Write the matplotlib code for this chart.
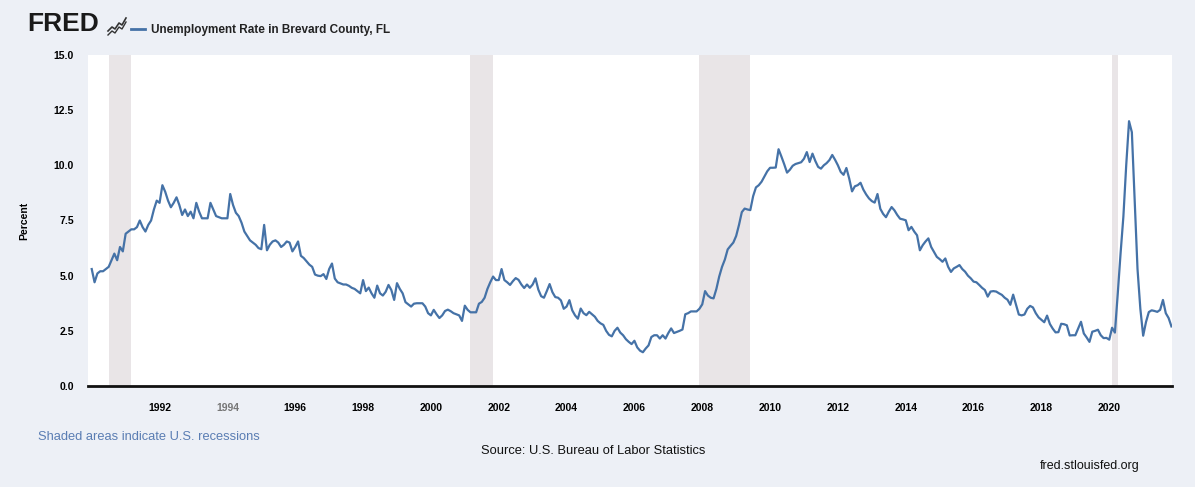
import numpy as np
import matplotlib
matplotlib.use("Agg")
import matplotlib.pyplot as plt
from matplotlib.lines import Line2D

# ---------------- data (monthly, Jan 1990 - Nov 2021) ----------------
start_year = 1990
rate_1990 = [5.3, 4.7, 5.1, 5.2, 5.2, 5.3, 5.4, 5.7, 6.0, 5.7, 6.3, 6.1]
rate_1991 = [6.9, 7.0, 7.1, 7.1, 7.2, 7.5, 7.2, 7.0, 7.3, 7.5, 8.0, 8.4]
rate_1992 = [8.3, 9.1, 8.8, 8.4, 8.1, 8.3, 8.55, 8.2, 7.75, 8.0, 7.7, 7.9]
rate_1993 = [7.6, 8.3, 7.9, 7.6, 7.6, 7.6, 8.3, 8.0, 7.7, 7.65, 7.6, 7.6]
rate_1994 = [7.6, 8.7, 8.2, 7.85, 7.7, 7.4, 7.0, 6.8, 6.6, 6.5, 6.4, 6.25]
rate_1995 = [6.2, 7.3, 6.15, 6.4, 6.55, 6.6, 6.5, 6.3, 6.4, 6.55, 6.5, 6.1]
rate_1996 = [6.3, 6.55, 5.9, 5.8, 5.65, 5.5, 5.4, 5.05, 5.0, 4.98, 5.07, 4.85]
rate_1997 = [5.3, 5.55, 4.87, 4.7, 4.65, 4.6, 4.6, 4.54, 4.45, 4.4, 4.3, 4.2]
rate_1998 = [4.8, 4.3, 4.46, 4.2, 4.0, 4.55, 4.2, 4.1, 4.27, 4.58, 4.35, 3.9]
rate_1999 = [4.66, 4.4, 4.2, 3.8, 3.7, 3.6, 3.73, 3.75, 3.75, 3.75, 3.6, 3.3]
rate_2000 = [3.2, 3.45, 3.25, 3.08, 3.2, 3.4, 3.46, 3.39, 3.3, 3.25, 3.2, 2.95]
rate_2001 = [3.64, 3.45, 3.34, 3.34, 3.34, 3.73, 3.81, 4.0, 4.4, 4.7, 4.96, 4.8]
rate_2002 = [4.8, 5.3, 4.8, 4.7, 4.58, 4.75, 4.89, 4.81, 4.6, 4.44, 4.6, 4.45]
rate_2003 = [4.6, 4.88, 4.37, 4.07, 4.0, 4.3, 4.62, 4.25, 4.03, 4.0, 3.88, 3.5]
rate_2004 = [3.6, 3.89, 3.43, 3.2, 3.05, 3.51, 3.3, 3.21, 3.36, 3.25, 3.14, 2.95]
rate_2005 = [2.84, 2.77, 2.5, 2.32, 2.25, 2.5, 2.64, 2.42, 2.3, 2.12, 2.0, 1.9]
rate_2006 = [2.05, 1.75, 1.6, 1.53, 1.7, 1.84, 2.22, 2.3, 2.3, 2.15, 2.3, 2.15]
rate_2007 = [2.4, 2.61, 2.4, 2.45, 2.5, 2.56, 3.25, 3.3, 3.38, 3.38, 3.38, 3.5]
rate_2008 = [3.7, 4.3, 4.1, 4.0, 3.97, 4.4, 4.96, 5.4, 5.73, 6.19, 6.35, 6.5]
rate_2009 = [6.8, 7.3, 7.88, 8.04, 8.0, 7.97, 8.6, 9.0, 9.1, 9.26, 9.5, 9.73]
rate_2010 = [9.89, 9.89, 9.9, 10.73, 10.4, 10.05, 9.67, 9.8, 9.98, 10.06, 10.1, 10.14]
rate_2011 = [10.3, 10.6, 10.15, 10.53, 10.2, 9.93, 9.85, 10.0, 10.1, 10.24, 10.47, 10.25]
rate_2012 = [10.0, 9.7, 9.57, 9.88, 9.4, 8.82, 9.05, 9.1, 9.21, 8.9, 8.68, 8.5]
rate_2013 = [8.38, 8.31, 8.7, 8.03, 7.8, 7.65, 7.9, 8.11, 7.96, 7.75, 7.58, 7.55]
rate_2014 = [7.51, 7.06, 7.21, 7.0, 6.83, 6.15, 6.38, 6.55, 6.69, 6.3, 6.08, 5.85]
rate_2015 = [5.75, 5.63, 5.78, 5.4, 5.17, 5.33, 5.4, 5.48, 5.3, 5.18, 5.0, 4.88]
rate_2016 = [4.73, 4.7, 4.58, 4.45, 4.35, 4.05, 4.28, 4.3, 4.28, 4.2, 4.13, 4.0]
rate_2017 = [3.91, 3.68, 4.14, 3.69, 3.24, 3.2, 3.24, 3.5, 3.63, 3.56, 3.3, 3.11]
rate_2018 = [3.0, 2.89, 3.19, 2.81, 2.6, 2.43, 2.44, 2.82, 2.8, 2.75, 2.29, 2.3]
rate_2019 = [2.3, 2.6, 2.91, 2.38, 2.2, 2.0, 2.46, 2.5, 2.55, 2.3, 2.17, 2.18]
rate_2020 = [2.1, 2.64, 2.42, 4.17, 6.0, 7.68, 10.0, 12.0, 11.5, 8.4, 5.3, 3.5]
rate_2021 = [2.28, 2.9, 3.35, 3.43, 3.4, 3.36, 3.45, 3.9, 3.3, 3.08, 2.7]

recession_starts = [1990 + 6/12, 2001 + 2/12, 2007 + 11/12, 2020 + 1/12]
recession_ends = [1991 + 2/12, 2001 + 10/12, 2009 + 5/12, 2020 + 3/12]

y_ticks = [0.0, 2.5, 5.0, 7.5, 10.0, 12.5, 15.0]
x_tick_years = list(range(1992, 2021, 2))

title = "Unemployment Rate in Brevard County, FL"

rate = np.array(rate_1990 + rate_1991 + rate_1992 + rate_1993 + rate_1994 + rate_1995 +
                rate_1996 + rate_1997 + rate_1998 + rate_1999 + rate_2000 + rate_2001 +
                rate_2002 + rate_2003 + rate_2004 + rate_2005 + rate_2006 + rate_2007 +
                rate_2008 + rate_2009 + rate_2010 + rate_2011 + rate_2012 + rate_2013 +
                rate_2014 + rate_2015 + rate_2016 + rate_2017 + rate_2018 + rate_2019 +
                rate_2020 + rate_2021)
t = start_year + np.arange(len(rate)) / 12.0

# ---------------- figure ----------------
plt.rcParams['font.family'] = ['Liberation Sans', 'DejaVu Sans']
W, H = 1195, 487
fig = plt.figure(figsize=(W / 100, H / 100), dpi=100, facecolor='#edf0f6')
ax = fig.add_axes([88 / W, 1 - 386 / H, (1172 - 88) / W, (386 - 55) / H])
ax.set_facecolor('white')

line_color = '#4572a7'
for s, e in zip(recession_starts, recession_ends):
    ax.axvspan(s, e, color='#e9e5e7', lw=0, zorder=0)
ax.plot(t, rate, color=line_color, lw=1.6, zorder=3)

ax.set_xlim(1989.89, 2021.85)
ax.set_ylim(0, 15)
ax.set_yticks(y_ticks)
ax.set_yticklabels([f"{v:.1f}" for v in y_ticks], fontsize=7.5, fontweight='bold')
ax.set_xticks(x_tick_years)
ax.set_xticklabels([str(y) for y in x_tick_years], fontsize=7.5, fontweight='bold')
for lbl in ax.get_xticklabels():
    if lbl.get_text() == '1994':
        lbl.set_color('#777777')
ax.tick_params(axis='both', length=0)
ax.tick_params(axis='y', pad=10)
ax.tick_params(axis='x', pad=12)
for sp in ['top', 'right', 'left']:
    ax.spines[sp].set_visible(False)
ax.spines['bottom'].set_linewidth(2.0)
ax.spines['bottom'].set_color('#111111')
ax.set_ylabel('Percent', fontsize=7.5, fontweight='bold', labelpad=18)

# ---------------- header ----------------
fig.text(27 / W, 1 - 24 / H, 'FRED', fontsize=19, fontweight='bold', color='#1a1a1a',
         va='center', ha='left')
# small chart icon
icon_x = np.array([108, 112, 115, 119, 122, 126]) / W
icon_y = 1 - np.array([31, 27, 29, 23, 25, 18]) / H
fig.add_artist(Line2D(icon_x, icon_y, color='#333333', lw=1.2))
fig.add_artist(Line2D(icon_x, icon_y - 4 / H, color='#333333', lw=1.0))
fig.add_artist(Line2D([131 / W, 145 / W], [1 - 29 / H, 1 - 29 / H], color=line_color, lw=2))
fig.text(151 / W, 1 - 30 / H, title, fontsize=8.5, fontweight='bold', color='#222222',
         va='center', ha='left')

# ---------------- footer ----------------
fig.text(38 / W, 1 - 437 / H, 'Shaded areas indicate U.S. recessions', fontsize=9.3,
         color='#5a7db3', va='center', ha='left')
fig.text(593 / W, 1 - 451 / H, 'Source: U.S. Bureau of Labor Statistics', fontsize=9.3,
         color='#111111', va='center', ha='center')
fig.text(1140 / W, 1 - 466 / H, 'fred.stlouisfed.org', fontsize=9.0,
         color='#111111', va='center', ha='right')

fig.savefig('out.png', dpi=100, facecolor=fig.get_facecolor())
